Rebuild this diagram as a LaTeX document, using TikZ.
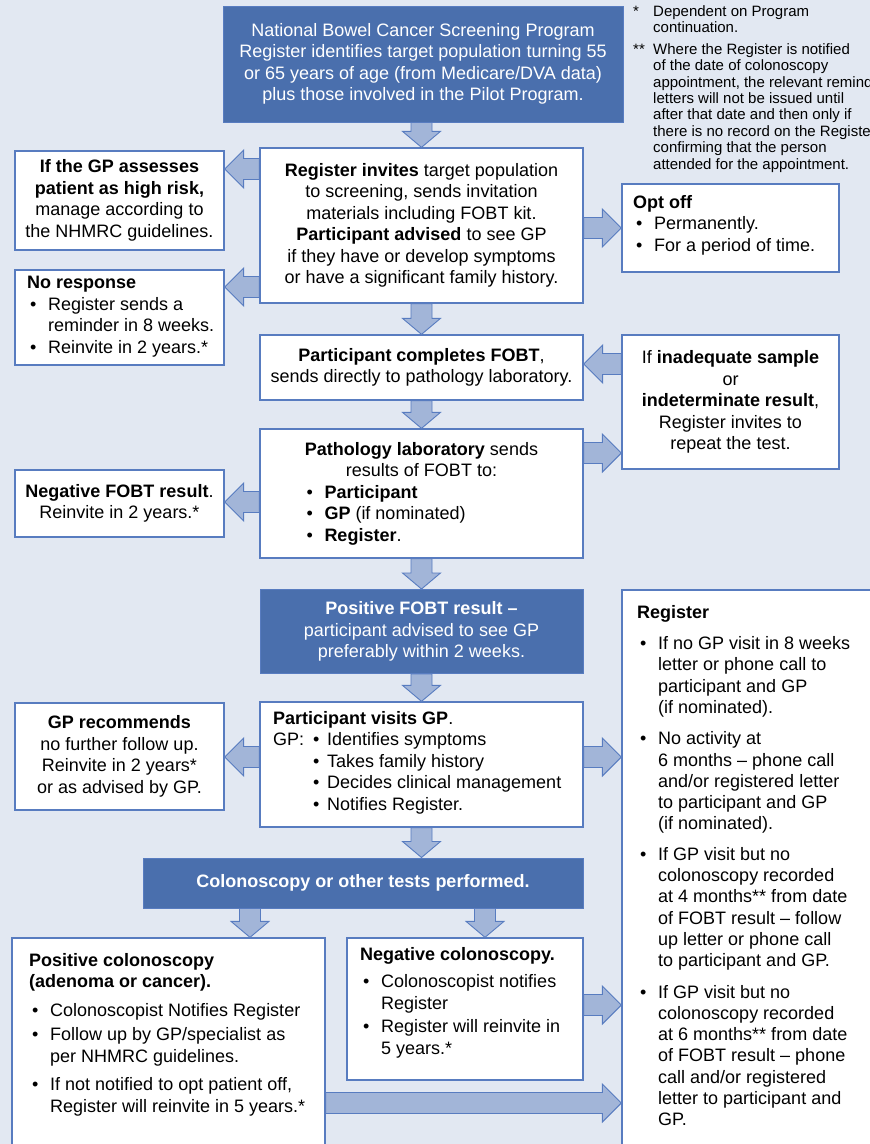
\documentclass[tikz,border=0pt]{standalone}
\usepackage{fontspec}
\setmainfont{Liberation Sans}
\usetikzlibrary{calc}
\definecolor{bgc}{RGB}{226,232,242}
\definecolor{darkc}{RGB}{74,111,173}
\definecolor{borderc}{RGB}{88,124,192}
\definecolor{arrowc}{RGB}{162,181,216}
\newcommand{\mfs}{\fontsize{18}{21.5}\selectfont}
\newcommand{\nfs}{\fontsize{15}{16.4}\selectfont}
\newcommand{\bitem}{\makebox[21pt][l]{\hspace{3pt}•}}
\newcommand{\bind}{\hspace*{21pt}}
\newcommand{\rarrow}[3]{\path[blockarrow] let \p1=(#1 |- 0,#3), \p2=(#2 |- 0,#3) in
  (\x1,\y1+10.5pt) -- (\x2-19pt,\y1+10.5pt) -- (\x2-19pt,\y1+19pt) -- (\x2,\y1) --
  (\x2-19pt,\y1-19pt) -- (\x2-19pt,\y1-10.5pt) -- (\x1,\y1-10.5pt) -- cycle;}
\newcommand{\larrow}[3]{\path[blockarrow] let \p1=(#1 |- 0,#3), \p2=(#2 |- 0,#3) in
  (\x1,\y1+10.5pt) -- (\x2+19pt,\y1+10.5pt) -- (\x2+19pt,\y1+19pt) -- (\x2,\y1) --
  (\x2+19pt,\y1-19pt) -- (\x2+19pt,\y1-10.5pt) -- (\x1,\y1-10.5pt) -- cycle;}
\newcommand{\darrow}[3]{\path[blockarrow] let \p1=(#1 -| #3,0), \p2=(#2 -| #3,0) in
  (\x1-10.5pt,\y1) -- (\x1-10.5pt,\y2+16pt) -- (\x1-19pt,\y2+16pt) -- (\x1,\y2) --
  (\x1+19pt,\y2+16pt) -- (\x1+10.5pt,\y2+16pt) -- (\x1+10.5pt,\y1) -- cycle;}
\begin{document}
\begin{tikzpicture}[x=1pt,y=-1pt,
  wbox/.style={draw=borderc, line width=1.3pt, fill=white, inner sep=0pt, align=center, font=\mfs},
  dbox/.style={draw=borderc, line width=1pt, fill=darkc, text=white, inner sep=0pt, align=center, font=\mfs},
  txt/.style={inner sep=0pt, align=left, anchor=north west, font=\mfs},
  blockarrow/.style={draw=borderc, fill=arrowc, line width=0.9pt, line join=miter}]
\fill[bgc] (0,0) rectangle (870,1144);
\useasboundingbox (0,0) rectangle (870,1144);

% footnotes
\node[txt, font=\nfs] (notes) at (633,5) {\makebox[20pt][l]{*}Dependent on Program\\
\hspace*{20pt}continuation.\\[5.5pt]
\makebox[20pt][l]{**}Where the Register is notified\\
\hspace*{20pt}of the date of colonoscopy\\
\hspace*{20pt}appointment, the relevant reminder\\
\hspace*{20pt}letters will not be issued until\\
\hspace*{20pt}after that date and then only if\\
\hspace*{20pt}there is no record on the Register\\
\hspace*{20pt}confirming that the person\\
\hspace*{20pt}attended for the appointment.};

% boxes
\node[dbox, minimum width=400pt, minimum height=116pt] (top) at (423,64)
 {National Bowel Cancer Screening Program\\
  Register identifies target population turning 55\\
  or 65 years of age (from Medicare/DVA data)\\
  plus those involved in the Pilot Program.};

\node[wbox, minimum width=323pt, minimum height=155pt] (reg) at (421.5,225.5)
 {\textbf{Register invites} target population\\
  to screening, sends invitation\\
  materials including FOBT kit.\\
  \textbf{Participant advised} to see GP\\
  if they have or develop symptoms\\
  or have a significant family history.};

\node[wbox, minimum width=209pt, minimum height=99pt] (hr) at (119.5,200.5)
 {\textbf{If the GP assesses}\\
  \textbf{patient as high risk,}\\
  manage according to\\
  the NHMRC guidelines.};

\node[wbox, minimum width=209pt, minimum height=95pt] (nr) at (119.5,317.5) {};
\node[txt] (nrt) at (27,276)
 {\textbf{No response}\\
  \bitem Register sends a\\
  \bind reminder in 8 weeks.\\
  \bitem Reinvite in 2 years.*};

\node[wbox, minimum width=217pt, minimum height=88pt] (opt) at (730.5,228) {};
\node[txt] (optt) at (633,195)
 {\textbf{Opt off}\\
  \bitem Permanently.\\
  \bitem For a period of time.};

\node[wbox, minimum width=323pt, minimum height=65pt] (fobt) at (421.5,367.5)
 {\textbf{Participant completes FOBT},\\
  sends directly to pathology laboratory.};

\node[wbox, minimum width=217pt, minimum height=134pt] (inad) at (730.5,402)
 {If \textbf{inadequate sample}\\
  or\\
  \textbf{indeterminate result},\\
  Register invites to\\
  repeat the test.};

\node[wbox, minimum width=323pt, minimum height=129pt] (path) at (421.5,493.5)
 {\textbf{Pathology laboratory} sends\\
  results of FOBT to:\\
  \makebox[236pt][l]{\bitem\textbf{Participant}}\\
  \makebox[236pt][l]{\bitem\textbf{GP} (if nominated)}\\
  \makebox[236pt][l]{\bitem\textbf{Register}.}};

\node[wbox, minimum width=209pt, minimum height=67pt] (neg) at (119.5,503.5)
 {\textbf{Negative FOBT result}.\\
  Reinvite in 2 years.*};

\node[dbox, minimum width=323pt, minimum height=84pt] (pos) at (421.5,631.5)
 {\textbf{Positive FOBT result –}\\
  participant advised to see GP\\
  preferably within 2 weeks.};

\node[wbox, minimum width=323pt, minimum height=125pt] (visit) at (421.5,764.5) {};
\node[txt] (visitt) at (273,711)
 {\textbf{Participant visits GP}.\\
  \makebox[40pt][l]{GP:}\makebox[14pt][l]{•}Identifies symptoms\\
  \hspace*{40pt}\makebox[14pt][l]{•}Takes family history\\
  \hspace*{40pt}\makebox[14pt][l]{•}Decides clinical management\\
  \hspace*{40pt}\makebox[14pt][l]{•}Notifies Register.};

\node[wbox, minimum width=209pt, minimum height=107pt] (gprec) at (119.5,756.5)
 {\textbf{GP recommends}\\
  no further follow up.\\
  Reinvite in 2 years*\\
  or as advised by GP.};

\node[dbox, minimum width=440pt, minimum height=50pt] (col) at (363,883)
 {\textbf{Colonoscopy or other tests performed.}};

\node[wbox, minimum width=313pt, minimum height=222pt] (poscol) at (168.5,1049) {};
\node[txt] (poscolt) at (29,953)
 {\textbf{Positive colonoscopy}\\
  \textbf{(adenoma or cancer).}\\[7pt]
  \bitem Colonoscopist Notifies Register\\[3pt]
  \bitem Follow up by GP/specialist as\\
  \bind per NHMRC guidelines.\\[7pt]
  \bitem If not notified to opt patient off,\\
  \bind Register will reinvite in 5 years.*};

\node[wbox, minimum width=236pt, minimum height=142pt] (negcol) at (465,1009) {};
\node[txt] (negcolt) at (360,947)
 {\textbf{Negative colonoscopy.}\\[6pt]
  \bitem Colonoscopist notifies\\
  \bind Register\\[2pt]
  \bitem Register will reinvite in\\
  \bind 5 years.*};

\node[wbox, minimum width=263pt, minimum height=570pt] (regbox) at (753.5,875) {};
\node[txt, font=\fontsize{18}{21.3}\selectfont] (regboxt) at (637,605)
 {\textbf{Register}\\[10pt]
  \bitem If no GP visit in 8 weeks\\
  \bind letter or phone call to\\
  \bind participant and GP\\
  \bind (if nominated).\\[10pt]
  \bitem No activity at\\
  \bind 6 months – phone call\\
  \bind and/or registered letter\\
  \bind to participant and GP\\
  \bind (if nominated).\\[9pt]
  \bitem If GP visit but no\\
  \bind colonoscopy recorded\\
  \bind at 4 months** from date\\
  \bind of FOBT result – follow\\
  \bind up letter or phone call\\
  \bind to participant and GP.\\[10pt]
  \bitem If GP visit but no\\
  \bind colonoscopy recorded\\
  \bind at 6 months** from date\\
  \bind of FOBT result – phone\\
  \bind call and/or registered\\
  \bind letter to participant and\\
  \bind GP.};

% block arrows
\darrow{top.south}{reg.north}{421.5}
\larrow{reg.west}{hr.east}{169}
\larrow{reg.west}{nr.east}{287}
\rarrow{reg.east}{opt.west}{228}
\darrow{reg.south}{fobt.north}{421.5}
\larrow{inad.west}{fobt.east}{364}
\darrow{fobt.south}{path.north}{421.5}
\rarrow{path.east}{inad.west}{453}
\larrow{path.west}{neg.east}{502}
\darrow{path.south}{pos.north}{421.5}
\darrow{pos.south}{visit.north}{421.5}
\larrow{visit.west}{gprec.east}{757}
\rarrow{visit.east}{regbox.west}{757}
\darrow{visit.south}{col.north}{421.5}
\darrow{col.south}{poscol.north}{250}
\darrow{col.south}{negcol.north}{485}
\rarrow{negcol.east}{regbox.west}{1005}
\rarrow{poscol.east}{regbox.west}{1103}
\end{tikzpicture}
\end{document}
